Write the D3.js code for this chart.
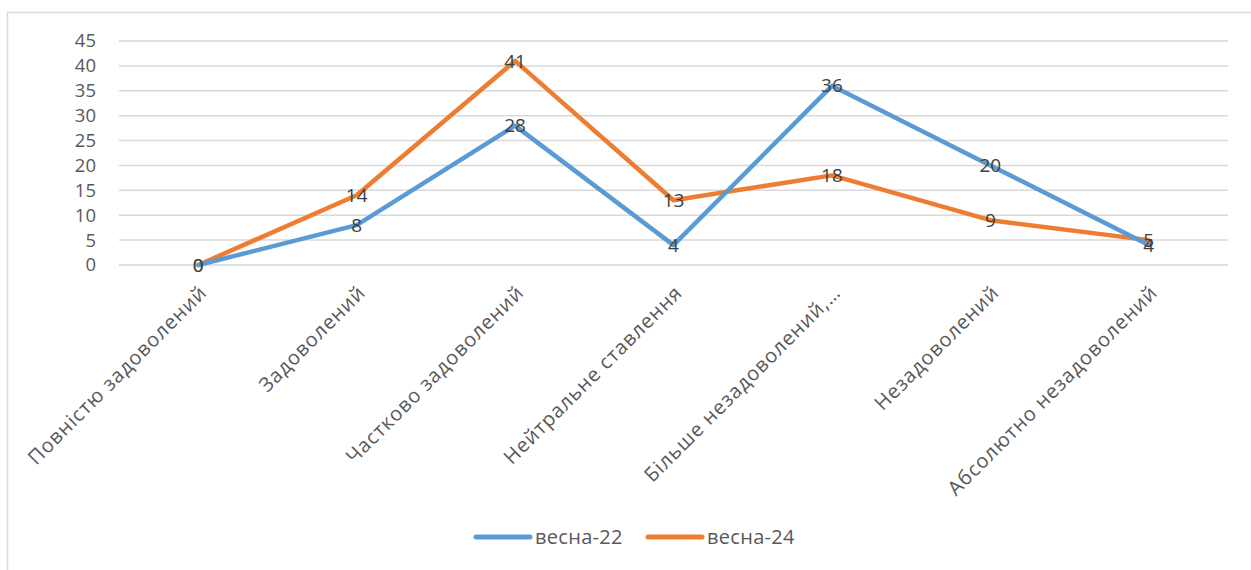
<!DOCTYPE html>
<html lang="uk">
<head>
	<meta charset="utf-8">
	<script src="https://cdn.jsdelivr.net/npm/d3@7"></script>
	<style>
		body { margin: 0; background: #fff; }
		text { font-family: "Open Sans", "Noto Sans", sans-serif; fill: #595959; }
	</style>
</head>
<body>
<svg id="chart" width="1251" height="570"></svg>

<script type="text/javascript">
    "use strict";

    // categories and series
    const categories = ["Повністю задоволений", "Задоволений", "Частково задоволений",
      "Нейтральне ставлення", "Більше незадоволений,…", "Незадоволений", "Абсолютно незадоволений"];
    const spring22 = [0, 8, 28, 4, 36, 20, 4];
    const spring24 = [0, 14, 41, 13, 18, 9, 5];
    const yTicks = [0, 5, 10, 15, 20, 25, 30, 35, 40, 45];
    const seriesNames = ["весна-22", "весна-24"];
    const seriesColors = ["#5b9bd5", "#ed7d31"];

    const svg = d3.select("#chart");

    // chart border
    svg.append("rect").attr("x", 7.5).attr("y", 12.5).attr("width", 1300).attr("height", 600)
      .attr("fill", "none").attr("stroke", "#d9d9d9").attr("stroke-width", 1.5);

    const x = d3.scaleBand().domain(categories).range([119, 1228]);
    const y = d3.scaleLinear().domain([0, 45]).range([265, 41]);

    // gridlines
    svg.append("g").selectAll("line").data(yTicks).join("line")
      .attr("x1", 119).attr("x2", 1228)
      .attr("y1", d => y(d)).attr("y2", d => y(d))
      .attr("stroke", "#d9d9d9").attr("stroke-width", 1.5);

    // y axis labels
    const yAxis = svg.append("g").attr("transform", "translate(106,0)")
      .call(d3.axisLeft(y).tickValues(yTicks).tickSize(0).tickPadding(10));
    yAxis.select(".domain").remove();
    yAxis.selectAll("text").attr("font-size", 18.5).attr("font-family", null).attr("fill", "#595959");

    // x axis labels, rotated
    const cx = d => x(d) + x.bandwidth() / 2;
    svg.append("g").selectAll("text").data(categories).join("text")
      .attr("transform", d => `translate(${cx(d) + 5},${289}) rotate(-45)`)
      .attr("text-anchor", "end").attr("dy", "0.35em")
      .attr("font-size", 20).attr("letter-spacing", "0.9px")
      .text(d => d);

    const line = d3.line().x((d, i) => cx(categories[i])).y(d => y(d));
    const series = [spring24, spring22];
    const colors = [seriesColors[1], seriesColors[0]];

    series.forEach((s, k) => {
      svg.append("path").datum(s).attr("d", line)
        .attr("fill", "none").attr("stroke", colors[k]).attr("stroke-width", 4.5)
        .attr("stroke-linejoin", "round").attr("stroke-linecap", "round");
    });

    // data labels, centered on points
    [spring22, spring24].forEach(s => {
      svg.append("g").selectAll("text").data(s).join("text")
        .attr("x", (d, i) => cx(categories[i]))
        .attr("y", d => y(d))
        .attr("dy", "0.35em").attr("text-anchor", "middle")
        .attr("font-size", 19).style("fill", "#404040")
        .text(d => d);
    });

    // legend
    const legend = svg.append("g");
    const legendX = [476, 648];
    seriesNames.forEach((name, i) => {
      legend.append("line").attr("x1", legendX[i]).attr("x2", legendX[i] + 54)
        .attr("y1", 537).attr("y2", 537)
        .attr("stroke", seriesColors[i]).attr("stroke-width", 5).attr("stroke-linecap", "round");
      legend.append("text").attr("x", legendX[i] + 59).attr("y", 537).attr("dy", "0.35em")
        .attr("font-size", 20).attr("letter-spacing", "0.3px").text(name);
    });
</script>
</body>
</html>
